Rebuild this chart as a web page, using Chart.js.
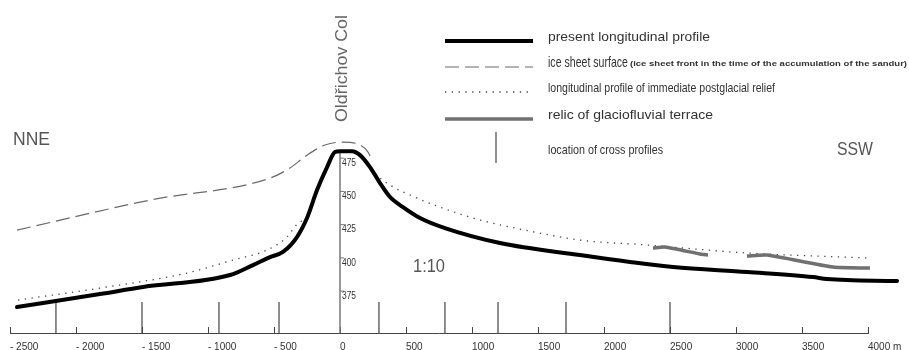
<!DOCTYPE html>
<html>
<head>
<meta charset="utf-8">
<script src="https://cdn.jsdelivr.net/npm/chart.js@4"></script>
<style>
  html, body { margin: 0; padding: 0; background: #fff; }
  canvas { display: block; }
</style>
</head>
<body>
<canvas id="profile" width="909" height="350"></canvas>
<script>
// distance along the valley (m), 0 = Oldřichov Col ; elevation (m a.s.l.)
const presentX = [-2447, -1818, -1492, -833, -659, -530, -432, -326, -250, -174, -98, -38, 0, 91, 152, 227, 303, 379, 477, 606, 795, 1212, 1818, 2197, 2523, 3083, 3583, 3689, 4220];
const presentY = [363.0, 372.8, 378.1, 387.1, 394.6, 400.6, 404.5, 415.7, 430.0, 451.0, 468.3, 479.6, 480.3, 480.3, 477.3, 468.3, 456.3, 445.8, 438.2, 430.0, 422.4, 411.2, 402.1, 396.9, 393.1, 389.4, 385.6, 384.1, 382.6];

const iceX = [-2447, -1439, -530, -379, -250, -114, 23, 152, 212, 242];
const iceY = [420.9, 443.5, 460.0, 467.6, 477.3, 484.9, 487.1, 484.9, 479.6, 473.6];

const reliefX = [-2439, -1818, -1159, -811, -553, -402, -318, -250, -174, -98, -38, 0, 91, 152, 227, 265, 379, 530, 758, 1061, 1364, 1818, 2326, 3083, 4015];
const reliefY = [368.3, 377.3, 388.6, 398.4, 405.9, 415.7, 426.2, 430.5, 451.0, 468.3, 479.6, 480.3, 480.3, 477.3, 468.8, 463.8, 454.8, 447.3, 438.2, 428.5, 421.7, 413.4, 409.7, 403.7, 399.9];

// two relics, the null splits them
const terraceX = [2371, 2462, 2727, 2788, 2935, 3083, 3235, 3735, 4015];
const terraceY = [407.4, 408.2, 402.9, 402.1, null, 401.4, 402.1, 393.1, 392.4];

const crossX = [-2152, -1500, -917, -462, 295, 795, 1197, 1712, 2500];

const xMin = -2500, xMax = 4000, xStep = 500;
const yMin = 343.5, yMax = 594;
const yTicks = [375, 400, 425, 450, 475];
const crossTop = 366.8;
const colAxisTop = 481;

const labels = {
  present: "present longitudinal profile",
  ice: "ice sheet surface",
  iceNote: "(ice sheet front in the time of the accumulation of the sandur)",
  relief: "longitudinal profile of immediate postglacial relief",
  terrace: "relic of glaciofluvial terrace",
  cross: "location of cross profiles"
};

const pts = (xs, ys) => xs.map((x, i) => ({ x, y: ys[i] }));
const crossPts = [];
crossX.forEach(c => {
  crossPts.push({ x: c, y: yMin }, { x: c, y: crossTop }, { x: c, y: null });
});

const FONT = '"Liberation Sans", Arial, sans-serif';

// squeeze / stretch a string to the width it has in the drawing
function fitText(ctx, text, x, y, width) {
  const w = ctx.measureText(text).width;
  ctx.save();
  ctx.translate(x, y);
  ctx.scale(width / w, 1);
  ctx.fillText(text, 0, 0);
  ctx.restore();
}

const axesPlugin = {
  id: 'profileAxes',
  beforeDatasetsDraw(chart) {
    const { ctx, chartArea, scales: { x, y } } = chart;
    ctx.save();
    // small ticks pointing up from the baseline
    ctx.strokeStyle = '#444';
    ctx.lineWidth = 1;
    x.ticks.forEach(t => {
      const px = Math.round(x.getPixelForValue(t.value)) + 0.5;
      ctx.beginPath();
      ctx.moveTo(px, chartArea.bottom);
      ctx.lineTo(px, chartArea.bottom - 6);
      ctx.stroke();
    });
    // elevation axis at the col
    const x0 = x.getPixelForValue(0);
    ctx.strokeStyle = '#777';
    ctx.lineWidth = 1.5;
    ctx.beginPath();
    ctx.moveTo(x0, y.getPixelForValue(colAxisTop));
    ctx.lineTo(x0, chartArea.bottom);
    ctx.stroke();
    ctx.lineWidth = 1;
    ctx.fillStyle = '#333';
    ctx.font = '10px ' + FONT;
    ctx.textBaseline = 'top';
    yTicks.forEach(v => {
      const py = y.getPixelForValue(v);
      ctx.beginPath();
      ctx.moveTo(x0, py);
      ctx.lineTo(x0 + 4, py);
      ctx.stroke();
      fitText(ctx, String(v), x0 + 2, py, 14);
    });
    ctx.restore();
  },
  afterDraw(chart) {
    const { ctx } = chart;
    const ds = chart.data.datasets;
    ctx.save();

    // legend
    const rows = [
      { base: 41, w: 162, size: 13 },
      { base: 67, w: 80, size: 15 },
      { base: 92, w: 227, size: 13 },
      { base: 119, w: 165, size: 13 },
      { base: 154, w: 115, size: 13 }
    ];
    ds.forEach((d, i) => {
      const r = rows[i];
      ctx.strokeStyle = d.borderColor;
      ctx.lineWidth = d.borderWidth;
      ctx.setLineDash(d.borderDash || []);
      ctx.beginPath();
      if (d.key === 'cross') {
        ctx.moveTo(496, 132);
        ctx.lineTo(496, 163);
      } else {
        ctx.moveTo(445, r.base);
        ctx.lineTo(533, r.base);
      }
      ctx.stroke();
      ctx.setLineDash([]);
      ctx.fillStyle = '#333';
      ctx.textBaseline = 'alphabetic';
      ctx.font = r.size + 'px ' + FONT;
      fitText(ctx, d.label, 548, r.base, r.w);
    });
    ctx.font = 'bold 7px ' + FONT;
    fitText(ctx, labels.iceNote, 630, 66, 277);

    // directions, scale, col name
    ctx.fillStyle = '#555';
    ctx.font = '18px ' + FONT;
    fitText(ctx, 'NNE', 13, 145, 37);
    fitText(ctx, 'SSW', 837, 155, 36);
    fitText(ctx, '1:10', 413, 272, 32);
    ctx.fillStyle = '#666';
    ctx.font = '17px ' + FONT;
    ctx.save();
    ctx.translate(347, 122);
    ctx.rotate(-Math.PI / 2);
    fitText(ctx, 'Oldřichov Col', 0, 0, 107);
    ctx.restore();

    ctx.restore();
  }
};

new Chart(document.getElementById('profile').getContext('2d'), {
  type: 'line',
  data: {
    datasets: [
      {
        key: 'present', label: labels.present, data: pts(presentX, presentY),
        borderColor: '#000', borderWidth: 4, cubicInterpolationMode: 'monotone', order: 0,
        borderCapStyle: 'round', borderJoinStyle: 'round'
      },
      {
        key: 'ice', label: labels.ice, data: pts(iceX, iceY),
        borderColor: '#6a6a6a', borderWidth: 1.2, borderDash: [14, 6], cubicInterpolationMode: 'monotone', order: 2
      },
      {
        key: 'relief', label: labels.relief, data: pts(reliefX, reliefY),
        borderColor: '#444', borderWidth: 1.3, borderDash: [1.3, 5.5], cubicInterpolationMode: 'monotone', order: 3
      },
      {
        key: 'terrace', label: labels.terrace, data: pts(terraceX, terraceY),
        borderColor: '#707070', borderWidth: 3.5, tension: 0.2, spanGaps: false, order: 1
      },
      {
        key: 'cross', label: labels.cross, data: crossPts,
        borderColor: '#444', borderWidth: 1.2, tension: 0, spanGaps: false, order: 4
      }
    ]
  },
  options: {
    responsive: false,
    animation: false,
    devicePixelRatio: 1,
    layout: { padding: { left: 10, right: 41, top: 0, bottom: 0 } },
    elements: { point: { radius: 0 } },
    datasets: { line: { clip: false, fill: false } },
    plugins: { legend: { display: false }, tooltip: { enabled: false } },
    scales: {
      x: {
        type: 'linear', min: xMin, max: xMax,
        grid: { display: false },
        border: { display: true, color: '#444', width: 1 },
        ticks: {
          stepSize: xStep, autoSkip: false, maxRotation: 0, minRotation: 0,
          align: 'start', padding: 0, color: '#333',
          font: { family: FONT, size: 10 },
          callback: v => v === xMax ? v + ' m' : (v < 0 ? '- ' + Math.abs(v) : String(v))
        },
        afterFit: s => { s.paddingLeft = 0; s.paddingRight = 0; s.height = 17; }
      },
      y: { type: 'linear', display: false, min: yMin, max: yMax }
    }
  },
  plugins: [axesPlugin]
});
</script>
</body>
</html>
